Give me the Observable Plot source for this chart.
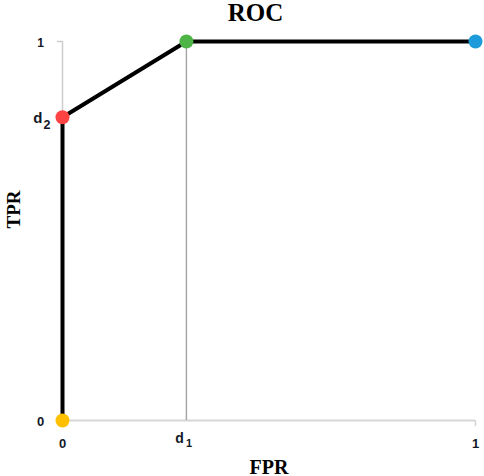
<!DOCTYPE html>
<html>
<head>
<meta charset="utf-8">
<script src="https://cdn.jsdelivr.net/npm/d3@7"></script>
<script src="https://cdn.jsdelivr.net/npm/@observablehq/plot@0.6"></script>
<style>
  html, body { margin: 0; padding: 0; background: #fff; }
  svg { overflow: visible; }
</style>
</head>
<body>
<div id="chart"></div>
<script>
// ---- data ----
const d1 = 0.30;
const d2 = 0.80;
const fpr = [0, 0, d1, 1];
const tpr = [0, d2, 1, 1];
const pointColors = ["#FFC000", "#FF4242", "#4DB445", "#1E9BDB"];

const xTickValues = [0, d1, 1];
const xTickMain = ["0", "d", "1"];
const xTickSub = ["", "1", ""];
const yTickValues = [0, d2, 1];
const yTickMain = ["0", "d", "1"];
const yTickSub = ["", "2", ""];

const title = "ROC";
const xLabel = "FPR";
const yLabel = "TPR";

const idx = d3.range(fpr.length);
const labelFont = "'Liberation Sans', Arial, sans-serif";
const serif = "'Liberation Serif', 'DejaVu Serif', serif";
const tickColor = "#111827";

const plot = Plot.plot({
  width: 484,
  height: 476,
  marginLeft: 62,
  marginRight: 9,
  marginTop: 41,
  marginBottom: 56,
  x: {domain: [0, 1], axis: null},
  y: {domain: [0, 1], axis: null},
  color: {type: "identity"},
  style: {background: "#fff", overflow: "visible"},
  marks: [
    // axis lines
    Plot.ruleY([0], {x1: 0, x2: 1, stroke: "#d6d6d6", strokeWidth: 1.8}),
    Plot.ruleX([0], {y1: 0, y2: 1, stroke: "#cccccc", strokeWidth: 1.5}),
    Plot.ruleX([d1], {y1: 0, y2: 1, stroke: "#a3a3a3", strokeWidth: 1.4}),
    // small end ticks
    Plot.ruleX([1], {y1: 0, y2: 0, insetBottom: -6, stroke: "#d6d6d6", strokeWidth: 1.5}),
    Plot.ruleY([1], {x1: 0, x2: 0, insetLeft: -5, stroke: "#cccccc", strokeWidth: 1.5}),
    // ROC curve
    Plot.line(idx, {x: i => fpr[i], y: i => tpr[i], stroke: "#000", strokeWidth: 4, strokeLinejoin: "round"}),
    Plot.dot(idx, {x: i => fpr[i], y: i => tpr[i], r: 7, fill: i => pointColors[i], stroke: "none"}),
    // x tick labels
    Plot.text([0, 2].map(i => xTickValues[i]), {
      x: d => d, y: 0, text: (d, i) => xTickMain[[0, 2][i]],
      lineAnchor: "bottom", dy: 27, fontSize: 13, fontWeight: "bold", fontFamily: labelFont, fill: tickColor
    }),
    Plot.text([xTickValues[1]], {
      x: d => d, y: 0, text: () => xTickMain[1], textAnchor: "end",
      lineAnchor: "bottom", dx: -2.5, dy: 22, fontSize: 14, fontWeight: "bold", fontFamily: labelFont, fill: tickColor
    }),
    Plot.text([xTickValues[1]], {
      x: d => d, y: 0, text: () => xTickSub[1], textAnchor: "start",
      lineAnchor: "bottom", dx: -0.5, dy: 26, fontSize: 11, fontWeight: "bold", fontFamily: labelFont, fill: tickColor
    }),
    // y tick labels
    Plot.text([yTickValues[0]], {
      x: 0, y: d => d, text: () => yTickMain[0], textAnchor: "middle",
      lineAnchor: "bottom", dx: -22, dy: 5, fontSize: 13, fontWeight: "bold", fontFamily: labelFont, fill: tickColor
    }),
    Plot.text([yTickValues[2]], {
      x: 0, y: d => d, text: () => yTickMain[2], textAnchor: "middle",
      lineAnchor: "bottom", dx: -22, dy: 5, fontSize: 12, fontWeight: "bold", fontFamily: labelFont, fill: tickColor
    }),
    Plot.text([yTickValues[1]], {
      x: 0, y: d => d, text: () => yTickMain[1], textAnchor: "end",
      lineAnchor: "bottom", dx: -20, dy: 5.5, fontSize: 15, fontWeight: "bold", fontFamily: labelFont, fill: tickColor
    }),
    Plot.text([yTickValues[1]], {
      x: 0, y: d => d, text: () => yTickSub[1], textAnchor: "start",
      lineAnchor: "bottom", dx: -19, dy: 11.5, fontSize: 12.5, fontWeight: "bold", fontFamily: labelFont, fill: tickColor
    }),
    // title and axis labels
    Plot.text([title], {
      frameAnchor: "top", lineAnchor: "bottom", dx: -13.5, dy: -21,
      fontSize: 25, fontWeight: "bold", fontFamily: serif, fill: "#000"
    }),
    Plot.text([xLabel], {
      frameAnchor: "bottom", lineAnchor: "bottom", dy: 53,
      fontSize: 20, fontWeight: "bold", fontFamily: serif, fill: "#000"
    }),
    Plot.text([yLabel], {
      frameAnchor: "left", rotate: -90, dx: -49, dy: -2.5,
      fontSize: 19, fontWeight: "bold", fontFamily: serif, fill: "#000"
    })
  ]
});
document.getElementById("chart").appendChild(plot);
</script>
</body>
</html>
